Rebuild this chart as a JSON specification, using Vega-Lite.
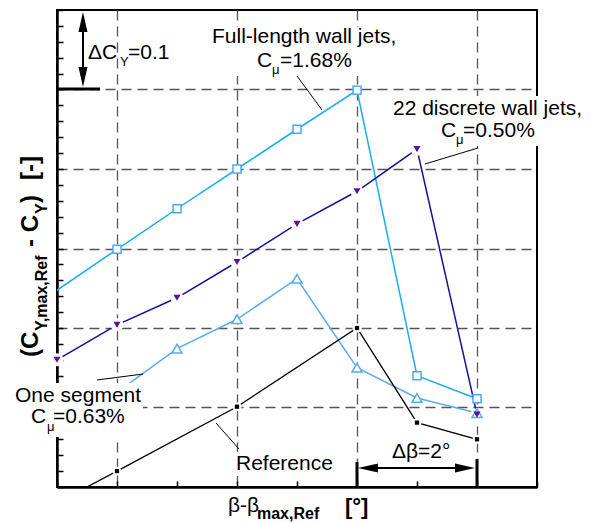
{
  "$schema": "https://vega.github.io/schema/vega-lite/v6.json",
  "width": 480,
  "height": 477,
  "autosize": {"type": "none"},
  "padding": {"left": 57, "top": 10, "right": 58, "bottom": 36},
  "background": "white",
  "config": {"view": {"stroke": "black", "strokeWidth": 2}},
  "datasets": {
    "series": [
      {"series": "FL", "x": -6, "y": 0.196},
      {"series": "FL", "x": -4, "y": 0.299},
      {"series": "FL", "x": -3, "y": 0.350},
      {"series": "FL", "x": -2, "y": 0.400},
      {"series": "FL", "x": -1, "y": 0.450},
      {"series": "FL", "x": 0, "y": 0.499},
      {"series": "FL", "x": 1, "y": 0.140},
      {"series": "FL", "x": 2, "y": 0.111},
      {"series": "DW", "x": -5, "y": 0.160},
      {"series": "DW", "x": -4, "y": 0.204},
      {"series": "DW", "x": -3, "y": 0.238},
      {"series": "DW", "x": -2, "y": 0.283},
      {"series": "DW", "x": -1, "y": 0.331},
      {"series": "DW", "x": 0, "y": 0.372},
      {"series": "DW", "x": 1, "y": 0.425},
      {"series": "DW", "x": 2, "y": 0.091},
      {"series": "OS", "x": -4, "y": 0.119},
      {"series": "OS", "x": -3, "y": 0.174},
      {"series": "OS", "x": -2, "y": 0.211},
      {"series": "OS", "x": -1, "y": 0.262},
      {"series": "OS", "x": 0, "y": 0.150},
      {"series": "OS", "x": 1, "y": 0.112},
      {"series": "OS", "x": 2, "y": 0.093},
      {"series": "REF", "x": -6, "y": -0.060},
      {"series": "REF", "x": -4, "y": 0.020},
      {"series": "REF", "x": -2, "y": 0.101},
      {"series": "REF", "x": 0, "y": 0.200},
      {"series": "REF", "x": 1, "y": 0.081},
      {"series": "REF", "x": 2, "y": 0.060}
    ]
  },
  "encoding": {
    "x": {
      "field": "x", "type": "quantitative",
      "scale": {"domain": [-5, 3], "nice": false, "zero": false},
      "axis": {
        "values": [-5, -4, -3, -2, -1, 0, 1, 2, 3],
        "labels": false, "title": null,
        "tickSize": -6, "tickWidth": 1.5, "tickColor": "black",
        "domainColor": "black", "domainWidth": 2.5,
        "grid": true, "gridColor": "#555555", "gridDash": [10, 6], "gridWidth": 1.3,
        "gridOpacity": {"condition": {"test": "abs(datum.value % 2) < 0.01 && datum.value > -4.5 && datum.value < 2.5", "value": 1}, "value": 0}
      }
    },
    "y": {
      "field": "y", "type": "quantitative",
      "scale": {"domain": [0, 0.6], "nice": false, "zero": false},
      "axis": {
        "values": [0, 0.02, 0.04, 0.06, 0.08, 0.1, 0.12, 0.14, 0.16, 0.18, 0.2, 0.22, 0.24, 0.26, 0.28, 0.3, 0.32, 0.34, 0.36, 0.38, 0.4, 0.42, 0.44, 0.46, 0.48, 0.5, 0.52, 0.54, 0.56, 0.58, 0.6],
        "labels": false, "title": null,
        "tickSize": -6, "tickWidth": 1.5, "tickColor": "black",
        "domainColor": "black", "domainWidth": 2.5,
        "grid": true, "gridColor": "#555555", "gridDash": [10, 6], "gridWidth": 1.3,
        "gridOpacity": {"condition": {"test": "abs(datum.value * 10 - round(datum.value * 10)) < 0.001 && datum.value > 0.05 && datum.value < 0.55", "value": 1}, "value": 0}
      }
    }
  },
  "layer": [
    {"data": {"name": "series"}, "transform": [{"filter": "datum.series == 'FL'"}],
     "mark": {"type": "line", "color": "#1AAEEF", "strokeWidth": 1.5, "clip": true}},
    {"data": {"name": "series"}, "transform": [{"filter": "datum.series == 'OS'"}],
     "mark": {"type": "line", "color": "#5AAAF5", "strokeWidth": 1.5, "clip": true}},
    {"data": {"name": "series"}, "transform": [{"filter": "datum.series == 'DW'"}],
     "mark": {"type": "line", "color": "#12129C", "strokeWidth": 1.5, "clip": true}},
    {"data": {"name": "series"}, "transform": [{"filter": "datum.series == 'REF'"}],
     "mark": {"type": "line", "color": "black", "strokeWidth": 1.3, "clip": true}},
    {"data": {"name": "series"}, "transform": [{"filter": "datum.series == 'DW' && datum.x >= -5"}],
     "mark": {"type": "point", "shape": "circle", "filled": true, "fill": "white", "opacity": 1, "size": 170, "strokeWidth": 0}},
    {"data": {"name": "series"}, "transform": [{"filter": "datum.series == 'REF' && datum.x >= -5"}],
     "mark": {"type": "point", "shape": "circle", "filled": true, "fill": "white", "opacity": 1, "size": 80, "strokeWidth": 0}},
    {"data": {"name": "series"}, "transform": [{"filter": "datum.series == 'FL' && datum.x >= -5"}],
     "mark": {"type": "point", "shape": "square", "filled": true, "fill": "white", "stroke": "#4FA8F5", "strokeWidth": 1.5, "opacity": 1, "size": 64}},
    {"data": {"name": "series"}, "transform": [{"filter": "datum.series == 'OS' && datum.x >= -5"}],
     "mark": {"type": "point", "shape": "triangle-up", "filled": true, "fill": "white", "stroke": "#5AAAF5", "strokeWidth": 1.5, "opacity": 1, "size": 100}},
    {"data": {"name": "series"}, "transform": [{"filter": "datum.series == 'DW' && datum.x >= -5"}],
     "mark": {"type": "point", "shape": "triangle-down", "filled": true, "fill": "#5A10A0", "strokeWidth": 0, "opacity": 1, "size": 50}},
    {"data": {"name": "series"}, "transform": [{"filter": "datum.series == 'REF' && datum.x >= -5"}],
     "mark": {"type": "point", "shape": "square", "filled": true, "fill": "black", "strokeWidth": 0, "opacity": 1, "size": 18}},
    {"data": {"values": [
      {"x": -2.483, "x2": 0.75, "y": 0.5786, "y2": 0.517},
      {"x": 0.55, "x2": 3.817, "y": 0.4918, "y2": 0.4289},
      {"x": -5.783, "x2": -3.567, "y": 0.1308, "y2": 0.0629},
      {"x": -2.083, "x2": -0.383, "y": 0.044, "y2": 0.0138}
    ]},
     "mark": {"type": "rect", "fill": "white", "strokeWidth": 0},
     "encoding": {"x2": {"field": "x2"}, "y2": {"field": "y2"}}},
    {"data": {"values": [
      {"x": -1.0, "y": 0.517, "x2": -0.583, "y2": 0.4742},
      {"x": 2.017, "y": 0.4264, "x2": 1.133, "y2": 0.4063},
      {"x": -4.333, "y": 0.1346, "x2": -3.567, "y2": 0.1421},
      {"x": -2.35, "y": 0.0805, "x2": -1.967, "y2": 0.0478}
    ]},
     "mark": {"type": "rule", "color": "black", "strokeWidth": 1},
     "encoding": {"x2": {"field": "x2"}, "y2": {"field": "y2"}}},
    {"data": {"values": [
      {"x": -4.567, "y": 0.5849, "x2": -4.567, "y2": 0.5145},
      {"x": 0.183, "y": 0.0239, "x2": 1.8, "y2": 0.0239}
    ]},
     "mark": {"type": "rule", "color": "black", "strokeWidth": 2},
     "encoding": {"x2": {"field": "x2"}, "y2": {"field": "y2"}}},
    {"data": {"values": [
      {"x": -5, "y": 0.5006, "x2": -4.283, "y2": 0.5006},
      {"x": 0, "y": 0.0314, "x2": 0, "y2": 0},
      {"x": 2, "y": 0.0352, "x2": 2, "y2": 0}
    ]},
     "mark": {"type": "rule", "color": "black", "strokeWidth": 3},
     "encoding": {"x2": {"field": "x2"}, "y2": {"field": "y2"}}},
    {"data": {"values": [{"x": -4.567, "y": 0.5849}]},
     "mark": {"type": "point", "shape": "M0,-1L0.45,1L-0.45,1Z", "filled": true, "fill": "black", "strokeWidth": 0, "opacity": 1, "size": 400}},
    {"data": {"values": [{"x": -4.567, "y": 0.5157}]},
     "mark": {"type": "point", "shape": "M0,1L0.45,-1L-0.45,-1Z", "filled": true, "fill": "black", "strokeWidth": 0, "opacity": 1, "size": 400}},
    {"data": {"values": [{"x": 0.183, "y": 0.0239}]},
     "mark": {"type": "point", "shape": "M-1,0L1,0.45L1,-0.45Z", "filled": true, "fill": "black", "strokeWidth": 0, "opacity": 1, "size": 400}},
    {"data": {"values": [{"x": 1.8, "y": 0.0239}]},
     "mark": {"type": "point", "shape": "M1,0L-1,0.45L-1,-0.45Z", "filled": true, "fill": "black", "strokeWidth": 0, "opacity": 1, "size": 400}},
    {"data": {"values": [
      {"t": "ΔC", "x": -4.483, "y": 0.5384},
      {"t": "=0.1", "x": -3.817, "y": 0.5384},
      {"t": "Full-length wall jets,", "x": -2.417, "y": 0.5585},
      {"t": "C", "x": -1.667, "y": 0.5283},
      {"t": "=1.68%", "x": -1.283, "y": 0.5283},
      {"t": "22 discrete wall jets,", "x": 0.6, "y": 0.4679},
      {"t": "C", "x": 1.4, "y": 0.4403},
      {"t": "=0.50%", "x": 1.767, "y": 0.4403},
      {"t": "One segment", "x": -5.7, "y": 0.1069},
      {"t": "C", "x": -5.433, "y": 0.0805},
      {"t": "=0.63%", "x": -5.067, "y": 0.0805},
      {"t": "Reference", "x": -2.017, "y": 0.0214},
      {"t": "Δβ=2°", "x": 0.583, "y": 0.0365}
    ]},
     "mark": {"type": "text", "align": "left", "baseline": "alphabetic", "font": "Liberation Sans", "fontSize": 21, "fill": "black"},
     "encoding": {"text": {"field": "t"}}},
    {"data": {"values": [
      {"t": "Y", "x": -3.95, "y": 0.5296},
      {"t": "μ", "x": -1.417, "y": 0.5195},
      {"t": "μ", "x": 1.65, "y": 0.4314},
      {"t": "μ", "x": -5.167, "y": 0.0704}
    ]},
     "mark": {"type": "text", "align": "left", "baseline": "alphabetic", "font": "Liberation Sans", "fontSize": 13, "fill": "black"},
     "encoding": {"text": {"field": "t"}}},
    {"data": {"values": [{"t": "β-β", "x": -2.15, "y": -0.0314}]},
     "mark": {"type": "text", "align": "left", "baseline": "alphabetic", "font": "Liberation Sans", "fontSize": 21, "fill": "black"},
     "encoding": {"text": {"field": "t"}}},
    {"data": {"values": [{"t": "max,Ref", "x": -1.667, "y": -0.0403}]},
     "mark": {"type": "text", "align": "left", "baseline": "alphabetic", "font": "Liberation Sans", "fontSize": 16, "fontWeight": "bold", "fill": "black"},
     "encoding": {"text": {"field": "t"}}},
    {"data": {"values": [{"t": "[°]", "x": -0.2, "y": -0.034}]},
     "mark": {"type": "text", "align": "left", "baseline": "alphabetic", "font": "Liberation Sans", "fontSize": 22, "fontWeight": "bold", "fill": "black"},
     "encoding": {"text": {"field": "t"}}},
    {"data": {"values": [
      {"t": "(C", "x": -5.317, "y": 0.1635},
      {"t": "- C", "x": -5.317, "y": 0.3019},
      {"t": ")", "x": -5.317, "y": 0.3572},
      {"t": "[-]", "x": -5.317, "y": 0.3862}
    ]},
     "mark": {"type": "text", "align": "left", "baseline": "alphabetic", "angle": 270, "font": "Liberation Sans", "fontSize": 24, "fontWeight": "bold", "fill": "black"},
     "encoding": {"text": {"field": "t"}}},
    {"data": {"values": [
      {"t": "Y,max,Ref", "x": -5.167, "y": 0.1962},
      {"t": "Y", "x": -5.167, "y": 0.3434}
    ]},
     "mark": {"type": "text", "align": "left", "baseline": "alphabetic", "angle": 270, "font": "Liberation Sans", "fontSize": 16, "fontWeight": "bold", "fill": "black"},
     "encoding": {"text": {"field": "t"}}}
  ]
}
